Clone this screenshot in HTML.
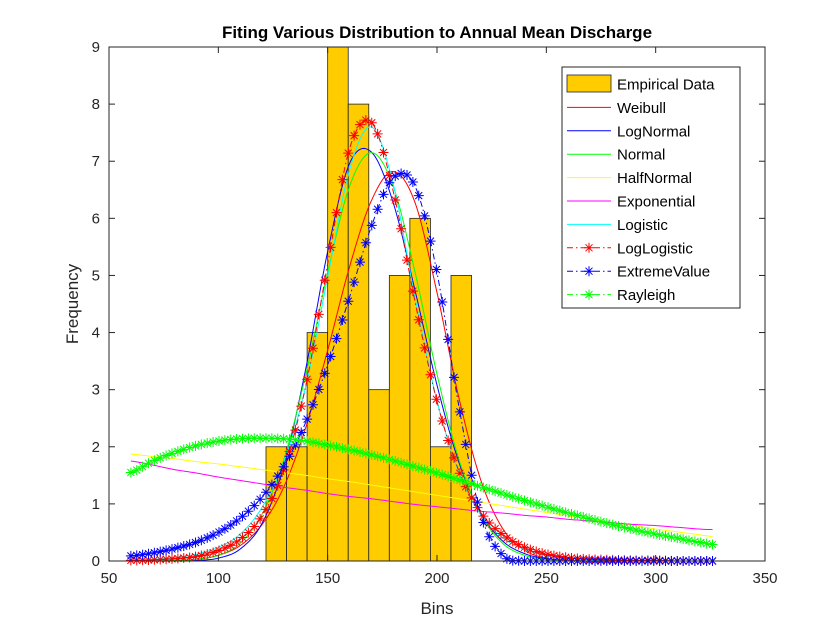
<!DOCTYPE html>
<html><head><meta charset="utf-8"><style>
html,body{margin:0;padding:0;background:#fff;}
svg{display:block;font-family:"Liberation Sans",Arial,sans-serif;}
</style></head><body>
<svg id="chart" width="840" height="630" viewBox="0 0 840 630" xmlns="http://www.w3.org/2000/svg">
<rect width="840" height="630" fill="#fff"/>
<text x="437" y="38" text-anchor="middle" font-size="17" font-weight="bold" fill="#000">Fiting Various Distribution to Annual Mean Discharge</text>
<text x="437" y="614" text-anchor="middle" font-size="17" fill="#262626">Bins</text>
<text transform="translate(78,304) rotate(-90)" text-anchor="middle" font-size="17" fill="#262626">Frequency</text>
<g id="plot"></g>
<g id="axes"></g>
<g id="legend"></g>
</svg>
<script>
const binCounts=[2,2,4,9,8,3,5,6,2,5];
const binStart=121.8, binWidth=9.4;
const xs=[60,70,80,90,100,110,120,130,140,150,160,170,180,190,200,210,220,230,240,250,260,270,280,290,300,310,320,326];
const weibull=[0,0,0.01,0.03,0.10,0.27,0.64,1.30,2.34,3.69,5.15,6.31,6.82,6.27,4.70,2.86,1.42,0.57,0.19,0.05,0.01,0,0,0,0,0,0,0];
const lognormal=[0,0,0,0.01,0.05,0.21,0.66,1.67,3.37,5.42,6.96,7.16,6.27,4.73,3.08,1.73,0.84,0.35,0.13,0.04,0.01,0,0,0,0,0,0,0];
const normal=[0,0,0.01,0.03,0.10,0.31,0.82,1.78,3.27,5.05,6.56,7.15,6.56,5.05,3.27,1.78,0.82,0.31,0.10,0.03,0.01,0,0,0,0,0,0,0];
const halfnormal=[1.87,1.83,1.79,1.74,1.70,1.65,1.60,1.55,1.50,1.44,1.39,1.33,1.27,1.21,1.15,1.09,1.03,0.97,0.91,0.85,0.79,0.73,0.67,0.62,0.56,0.51,0.46,0.43];
const exponential=[1.75,1.68,1.60,1.54,1.47,1.41,1.35,1.29,1.24,1.18,1.13,1.09,1.04,0.99,0.95,0.91,0.87,0.84,0.80,0.77,0.73,0.70,0.67,0.64,0.62,0.59,0.56,0.55];
const logistic=[0.01,0.03,0.06,0.12,0.24,0.47,0.94,1.74,3.06,4.97,6.85,7.6,6.6,4.6,2.8,1.55,0.81,0.41,0.2,0.1,0.05,0.02,0.01,0,0,0,0,0];
const loglogistic=[0.01,0.02,0.04,0.08,0.18,0.38,0.79,1.61,3.07,5.20,7.22,7.68,6.47,4.53,2.79,1.58,0.85,0.46,0.24,0.12,0.06,0.03,0.02,0.01,0.01,0,0,0];
const extremevalue=[0.09,0.14,0.22,0.33,0.50,0.75,1.12,1.66,2.43,3.43,4.62,5.86,6.71,6.56,5.05,2.71,0.82,0.10,0,0,0,0,0,0,0,0,0,0];
const rayleigh=[1.55,1.75,1.9,2.02,2.1,2.14,2.15,2.14,2.1,2.03,1.95,1.86,1.76,1.65,1.54,1.42,1.3,1.18,1.06,0.95,0.84,0.74,0.64,0.55,0.47,0.4,0.33,0.29];
const xTicks=[50,100,150,200,250,300,350];
const yTicks=[0,1,2,3,4,5,6,7,8,9];
const seriesNames=["Weibull","LogNormal","Normal","HalfNormal","Exponential","Logistic","LogLogistic","ExtremeValue","Rayleigh"];

const L=109,R=765,T=47,B=561;
const X=v=>L+(v-50)/300*(R-L);
const Y=v=>B-v/9*(B-T);
const NS="http://www.w3.org/2000/svg";
function mk(tag,attrs,parent){const e=document.createElementNS(NS,tag);for(const k in attrs)e.setAttribute(k,attrs[k]);parent.appendChild(e);return e;}
const plot=document.getElementById('plot'),axes=document.getElementById('axes'),leg=document.getElementById('legend');

// bars
binCounts.forEach((c,i)=>{
  const x0=binStart+i*binWidth,x1=x0+binWidth;
  const r=mk('rect',{x:X(x0),y:Y(c),width:X(x1)-X(x0),height:Y(0)-Y(c),fill:'#FFCC00',stroke:'#222','stroke-width':0.8},plot);
  
  
});

function evalCR(ys,x){
  let i=0;while(i<xs.length-2&&x>xs[i+1])i++;
  const x0=xs[i],x1=xs[i+1];const t=Math.max(0,Math.min(1,(x-x0)/(x1-x0)));
  const p0=ys[Math.max(0,i-1)],p1=ys[i],p2=ys[i+1],p3=ys[Math.min(ys.length-1,i+2)];
  const t2=t*t,t3=t2*t;
  let v=0.5*((2*p1)+(-p0+p2)*t+(2*p0-5*p1+4*p2-p3)*t2+(-p0+3*p1-3*p2+p3)*t3);
  return Math.max(0,v);
}
function curvePath(ys){
  let d='';const x0=xs[0],x1=xs[xs.length-1];
  for(let k=0;k<=400;k++){const x=x0+(x1-x0)*k/400;d+=(k?'L':'M')+X(x).toFixed(2)+','+Y(evalCR(ys,x)).toFixed(2);}
  return d;
}
function star(g,cx,cy,col,s){
  const d=`M${cx-s},${cy}L${cx+s},${cy}M${cx},${cy-s}L${cx},${cy+s}M${cx-s*0.7},${cy-s*0.7}L${cx+s*0.7},${cy+s*0.7}M${cx-s*0.7},${cy+s*0.7}L${cx+s*0.7},${cy-s*0.7}`;
  mk('path',{d:d,stroke:col,'stroke-width':1,fill:'none'},g);
}
const defs=[
 {ys:weibull,col:'#ff0000',m:false,name:'weibull-curve'},
 {ys:lognormal,col:'#0000ff',m:false,name:'lognormal-curve'},
 {ys:normal,col:'#00ff00',m:false,name:'normal-curve'},
 {ys:halfnormal,col:'#ffff00',m:false,name:'halfnormal-curve'},
 {ys:exponential,col:'#ff00ff',m:false,name:'exponential-curve'},
 {ys:logistic,col:'#00ffff',m:false,name:'logistic-curve'},
 {ys:loglogistic,col:'#ff0000',m:true,name:'loglogistic-curve'},
 {ys:extremevalue,col:'#0000ff',m:true,name:'extremevalue-curve'},
 {ys:rayleigh,col:'#00ff00',m:true,name:'rayleigh-curve'}
];
defs.forEach(s=>{
  const g=mk('g',{},plot);
  
  
  const a={d:curvePath(s.ys),stroke:s.col,'stroke-width':1,fill:'none'};
  if(s.m)a['stroke-dasharray']='6,3,1.5,3';
  mk('path',a,g);
  if(s.m){
    const x0=xs[0],x1=xs[xs.length-1];
    for(let k=0;k<100;k++){const x=x0+(x1-x0)*k/99;star(g,X(x),Y(evalCR(s.ys,x)),s.col,5);}
  }
});

// axes box and ticks
const box=mk('rect',{x:L,y:T,width:R-L,height:B-T,fill:'none',stroke:'#262626','stroke-width':1},axes);


xTicks.forEach(v=>{
  mk('line',{x1:X(v),x2:X(v),y1:B,y2:B-6,stroke:'#262626'},axes);
  mk('line',{x1:X(v),x2:X(v),y1:T,y2:T+6,stroke:'#262626'},axes);
  const t=mk('text',{x:X(v),y:B+22,'text-anchor':'middle','font-size':15,fill:'#262626'},axes);
  t.textContent=v;
  
  
});
yTicks.forEach(v=>{
  mk('line',{x1:L,x2:L+6,y1:Y(v),y2:Y(v),stroke:'#262626'},axes);
  mk('line',{x1:R,x2:R-6,y1:Y(v),y2:Y(v),stroke:'#262626'},axes);
  const t=mk('text',{x:L-9,y:Y(v)+5,'text-anchor':'end','font-size':15,fill:'#262626'},axes);
  t.textContent=v;
  
  
});

// legend
const lb=mk('rect',{x:562,y:67,width:178,height:241,fill:'#fff',stroke:'#262626','stroke-width':1},leg);


const entries=[{n:'Empirical Data',patch:true}].concat(seriesNames.map((n,i)=>({n:n,col:defs[i].col,m:defs[i].m})));
entries.forEach((e,i)=>{
  const cy=84+i*23.4;
  const g=mk('g',{},leg);
  
  
  if(e.patch){mk('rect',{x:567,y:cy-9,width:44,height:17,fill:'#FFCC00',stroke:'#222','stroke-width':0.8},g);}
  else{
    const a={x1:567,x2:611,y1:cy,y2:cy,stroke:e.col,'stroke-width':1};
    if(e.m)a['stroke-dasharray']='6,3,1.5,3';
    mk('line',a,g);
    if(e.m)star(g,589,cy,e.col,5);
  }
  const t=mk('text',{x:617,y:cy+5.5,'font-size':15,fill:'#000'},g);
  t.textContent=e.n;
});
</script>
</body></html>
